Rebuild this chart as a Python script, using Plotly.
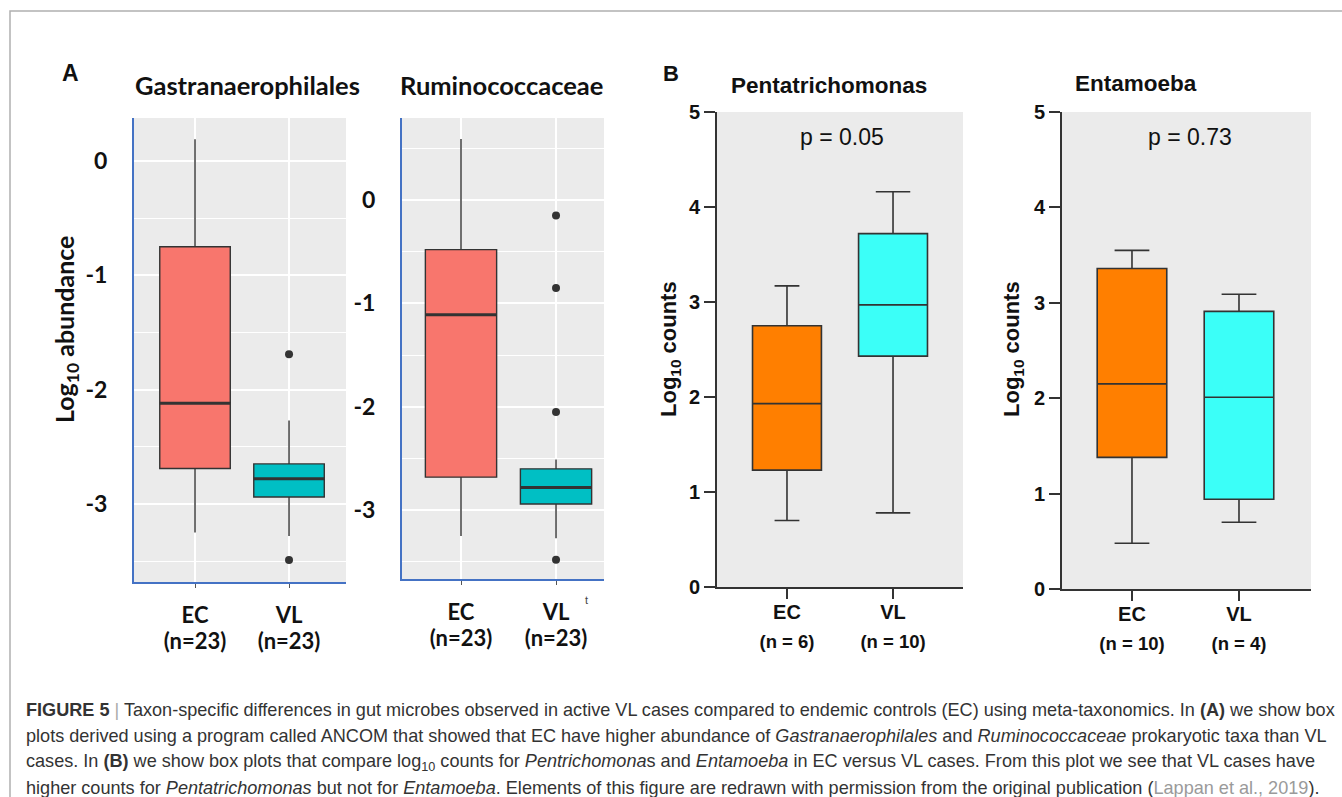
import plotly.graph_objects as go

W, H = 1342, 797

# ---------------- data ----------------
groups = ['EC', 'VL']

# Panel A: Gastranaerophilales (log10 abundance)
gast_q1 = [-2.69, -2.94]
gast_median = [-2.12, -2.78]
gast_q3 = [-0.75, -2.65]
gast_lower = [-3.25, -3.28]
gast_upper = [0.19, -2.27]
gast_outliers_vl = [-1.69, -3.49]
gast_n = ['(n=23)', '(n=23)']

# Panel A: Ruminococcaceae
rumi_q1 = [-2.68, -2.94]
rumi_median = [-1.11, -2.78]
rumi_q3 = [-0.48, -2.60]
rumi_lower = [-3.25, -3.27]
rumi_upper = [0.59, -2.51]
rumi_outliers_vl = [-0.15, -0.85, -2.05, -3.48]
rumi_n = ['(n=23)', '(n=23)']

a_ticks = [0, -1, -2, -3]
a_ticklabels = ['0', '-1', '-2', '-3']
a_minor = [0.5, -0.5, -1.5, -2.5, -3.5]

# Panel B: Pentatrichomonas (log10 counts)
penta_q1 = [1.23, 2.43]
penta_median = [1.93, 2.97]
penta_q3 = [2.75, 3.72]
penta_lower = [0.70, 0.78]
penta_upper = [3.17, 4.16]
penta_n = ['(n = 6)', '(n = 10)']
penta_p = 'p = 0.05'

# Panel B: Entamoeba
ent_q1 = [1.38, 0.94]
ent_median = [2.15, 2.01]
ent_q3 = [3.36, 2.91]
ent_lower = [0.48, 0.70]
ent_upper = [3.55, 3.09]
ent_n = ['(n = 10)', '(n = 4)']
ent_p = 'p = 0.73'

b_ticks = [0, 1, 2, 3, 4, 5]

a_colors = ['#F8766D', '#00BFC4']
b_colors = ['#FF7F00', '#3BFFF8']

# ---------------- helpers ----------------
def fx(x):
    return x / W

def fy(y):
    return 1 - y / H

fig = go.Figure()

A_FONT = 'Lato, Open Sans, sans-serif'
B_FONT = 'Liberation Sans, Arial, sans-serif'


def add_a_panel(idx, q1, med, q3, lo, up, outliers):
    xa, ya = ('x' if idx == 1 else f'x{idx}'), ('y' if idx == 1 else f'y{idx}')
    for i, g in enumerate(groups):
        fig.add_trace(go.Box(
            x=[g], q1=[q1[i]], median=[med[i]], q3=[q3[i]],
            lowerfence=[lo[i]], upperfence=[up[i]],
            fillcolor=a_colors[i], line=dict(color='#333333', width=1.4),
            width=0.75, whiskerwidth=0, boxpoints=False,
            xaxis=xa, yaxis=ya, showlegend=False, hoverinfo='skip'))
        # thicker median bar (ggplot style)
        fig.add_trace(go.Box(
            x=[g], q1=[med[i]], median=[med[i]], q3=[med[i]],
            lowerfence=[med[i]], upperfence=[med[i]],
            fillcolor='rgba(0,0,0,0)', line=dict(color='#333333', width=3),
            width=0.75, whiskerwidth=0, boxpoints=False,
            xaxis=xa, yaxis=ya, showlegend=False, hoverinfo='skip'))
    fig.add_trace(go.Scatter(
        x=['VL'] * len(outliers), y=outliers, mode='markers',
        marker=dict(color='#333333', size=8), xaxis=xa, yaxis=ya,
        showlegend=False, hoverinfo='skip'))


def add_b_panel(idx, q1, med, q3, lo, up, ww):
    xa, ya = f'x{idx}', f'y{idx}'
    for i, g in enumerate(groups):
        fig.add_trace(go.Box(
            x=[g], q1=[q1[i]], median=[med[i]], q3=[q3[i]],
            lowerfence=[lo[i]], upperfence=[up[i]],
            fillcolor=b_colors[i], line=dict(color='#333333', width=1.6),
            width=0.65, whiskerwidth=ww[i], boxpoints=False,
            xaxis=xa, yaxis=ya, showlegend=False, hoverinfo='skip'))


add_a_panel(1, gast_q1, gast_median, gast_q3, gast_lower, gast_upper, gast_outliers_vl)
add_a_panel(2, rumi_q1, rumi_median, rumi_q3, rumi_lower, rumi_upper, rumi_outliers_vl)
add_b_panel(3, penta_q1, penta_median, penta_q3, penta_lower, penta_upper, [0.36, 0.5])
add_b_panel(4, ent_q1, ent_median, ent_q3, ent_lower, ent_upper, [0.5, 0.5])

# ---------------- axes ----------------
def a_xaxis(x0, x1, rng, nlabels, anchor):
    labels = [f"<span style='font-size:22px'>{g}</span><br><span style='font-size:22px'>{n}</span>"
              for g, n in zip(groups, nlabels)]
    return dict(domain=[fx(x0), fx(x1)], range=rng, type='category', anchor=anchor,
                categoryorder='array', categoryarray=groups,
                tickvals=groups, ticktext=labels, automargin=False,
                showgrid=True, gridcolor='white', gridwidth=1.5,
                showline=True, linecolor='#4472C4', linewidth=2,
                ticks='outside', ticklen=4, tickwidth=1, tickcolor='#555555',
                ticklabelstandoff=10,
                tickfont=dict(family=A_FONT, size=20.5, weight='bold', color='#111111'),
                zeroline=False, fixedrange=True)


def a_yaxis(y0, y1, rng, anchor):
    return dict(domain=[fy(y1), fy(y0)], range=rng, anchor=anchor,
                tickvals=a_ticks, ticktext=a_ticklabels, automargin=False,
                showgrid=True, gridcolor='white', gridwidth=1.5,
                minor=dict(tickvals=a_minor, showgrid=True, gridcolor='white', gridwidth=0.8),
                showline=True, linecolor='#4472C4', linewidth=2,
                ticks='', ticklabelstandoff=20,
                tickfont=dict(family=A_FONT, size=23, weight='bold', color='#111111'),
                zeroline=False, fixedrange=True)


def b_xaxis(x0, x1, rng, nlabels, anchor):
    labels = [f"<span style='font-size:20px'>{g}</span><br><span style='font-size:18.5px'>{n}</span>"
              for g, n in zip(groups, nlabels)]
    return dict(domain=[fx(x0), fx(x1)], range=rng, type='category', anchor=anchor,
                categoryorder='array', categoryarray=groups,
                tickvals=groups, ticktext=labels, automargin=False,
                showgrid=False, showline=True, linecolor='#333333', linewidth=2,
                ticks='outside', ticklen=10, tickwidth=2, tickcolor='#333333',
                ticklabelstandoff=-6,
                tickfont=dict(family=B_FONT, size=22, weight='bold', color='#111111'),
                zeroline=False, fixedrange=True)


def b_yaxis(y0, y1, anchor):
    return dict(domain=[fy(y1), fy(y0)], range=[0, 5], anchor=anchor,
                tickvals=b_ticks, showgrid=False, automargin=False,
                showline=True, linecolor='#333333', linewidth=2,
                ticks='outside', ticklen=11, tickwidth=2, tickcolor='#333333',
                tickfont=dict(family=B_FONT, size=20, weight='bold', color='#111111'),
                zeroline=False, fixedrange=True)


fig.update_layout(
    width=W, height=H, margin=dict(l=0, r=0, t=0, b=0, pad=0, autoexpand=False),
    paper_bgcolor='white', plot_bgcolor='#EBEBEB', boxmode='overlay',
    xaxis=a_xaxis(134, 346, [-0.649, 1.606], gast_n, 'y'),
    yaxis=a_yaxis(118, 582, [-3.683, 0.376], 'x'),
    xaxis2=a_xaxis(402, 604, [-0.621, 1.505], rumi_n, 'y2'),
    yaxis2=a_yaxis(118, 579, [-3.665, 0.793], 'x2'),
    xaxis3=b_xaxis(717, 963, [-0.66, 1.66], penta_n, 'y3'),
    yaxis3=b_yaxis(112, 587, 'x3'),
    xaxis4=b_xaxis(1062, 1311, [-0.654, 1.673], ent_n, 'y4'),
    yaxis4=b_yaxis(112, 589, 'x4'),
)

# ---------------- text ----------------
ann = []

def text(x, y, s, size, family, bold=False, color='#111111', xanchor='center', angle=0):
    ann.append(dict(x=fx(x), y=fy(y), xref='paper', yref='paper', text=s, showarrow=False,
                    xanchor=xanchor, yanchor='middle', textangle=angle,
                    font=dict(family=family, size=size, color=color,
                              weight='bold' if bold else 'normal')))

text(70, 73, 'A', 23, B_FONT, True)
text(671, 73, 'B', 22, B_FONT, True)
text(247, 85, 'Gastranaerophilales', 25.5, A_FONT, True)
text(501, 85, 'Ruminococcaceae', 25.5, A_FONT, True)
text(829, 86, 'Pentatrichomonas', 22.5, B_FONT, True)
text(1136, 84, 'Entamoeba', 22.5, B_FONT, True)
text(842, 137, penta_p, 23, B_FONT)
text(1190, 137, ent_p, 23, B_FONT)
text(66, 330, 'Log<sub>10</sub> abundance', 25, A_FONT, True, angle=-90)
text(670, 349, 'Log<sub>10</sub> counts', 22, B_FONT, True, angle=-90)
text(1013, 349, 'Log<sub>10</sub> counts', 22, B_FONT, True, angle=-90)
text(586, 600, 't', 11, B_FONT, color='#444444')

CAP = 'Liberation Sans, Arial, sans-serif'
cap_lines = [
    "<b>FIGURE 5</b> <span style='color:#aaaaaa'>|</span> Taxon-specific differences in gut microbes observed in active VL cases compared to endemic controls (EC) using meta-taxonomics. In <b>(A)</b> we show box",
    "plots derived using a program called ANCOM that showed that EC have higher abundance of <i>Gastranaerophilales</i> and <i>Ruminococcaceae</i> prokaryotic taxa than VL",
    "cases. In <b>(B)</b> we show box plots that compare log<sub>10</sub> counts for <i>Pentrichomona</i>s and <i>Entamoeba</i> in EC versus VL cases. From this plot we see that VL cases have",
    "higher counts for <i>Pentatrichomonas</i> but not for <i>Entamoeba</i>. Elements of this figure are redrawn with permission from the original publication (<span style='color:#9a9a9a'>Lappan et al., 2019</span>).",
]
for i, line in enumerate(cap_lines):
    text(24, 710 + 26 * i, line, 18.1, CAP, color='#333333', xanchor='left')

fig.update_layout(annotations=ann)

# figure frame
fig.add_shape(type='rect', xref='paper', yref='paper', x0=fx(10), y0=fy(11), x1=1.05, y1=-0.05,
              line=dict(color='#b0b0b0', width=1.5), fillcolor='rgba(0,0,0,0)', layer='below')

fig.write_html("out.html", config={'displayModeBar': False},
               post_script="document.body.style.margin='0';")
